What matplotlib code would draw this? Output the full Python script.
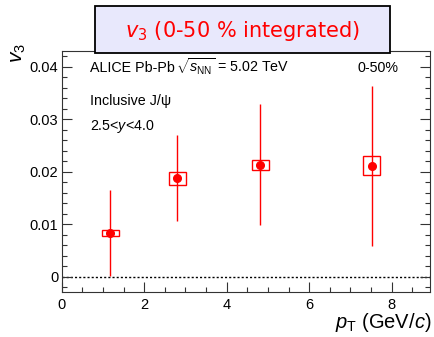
import matplotlib
matplotlib.use("Agg")
import matplotlib.pyplot as plt
from matplotlib.patches import Rectangle
from matplotlib.ticker import MultipleLocator, FuncFormatter

plt.rcParams['font.family'] = ['Liberation Sans', 'DejaVu Sans']
plt.rcParams['mathtext.fontset'] = 'custom'
plt.rcParams['mathtext.rm'] = 'Liberation Sans'
plt.rcParams['mathtext.it'] = 'Liberation Sans:italic'
plt.rcParams['mathtext.bf'] = 'Liberation Sans:bold'

# data
pt = [1.18, 2.80, 4.81, 7.52]
v3 = [0.0083, 0.0187, 0.0213, 0.0211]
stat = [0.0082, 0.0082, 0.0115, 0.0152]
syst = [0.0006, 0.0013, 0.0009, 0.0018]
box_halfwidth = 0.205

fig = plt.figure(figsize=(4.34, 3.37), dpi=100)
ax = fig.add_axes([0.1422, 0.1326, 0.8486, 0.7146])

red = '#ff0000'
ax.axhline(0, color='black', lw=1, ls=(0, (1.5, 1.5)), zorder=1)
for x, y, s in zip(pt, v3, syst):
    ax.add_patch(Rectangle((x - box_halfwidth, y - s), 2 * box_halfwidth, 2 * s,
                           fill=False, edgecolor=red, lw=1, zorder=2))
ax.errorbar(pt, v3, yerr=stat, fmt='o', color=red, ms=5.5, elinewidth=1,
            capsize=0, zorder=3)

ax.set_xlim(0, 8.93)
ax.set_ylim(-0.003, 0.0429)
ax.xaxis.set_major_locator(MultipleLocator(2))
ax.xaxis.set_minor_locator(MultipleLocator(0.5))
ax.yaxis.set_major_locator(MultipleLocator(0.01))
ax.yaxis.set_minor_locator(MultipleLocator(0.002))
ax.yaxis.set_major_formatter(FuncFormatter(lambda v, p: '0' if abs(v) < 1e-9 else f'{v:.2f}'))
ax.xaxis.set_major_formatter(FuncFormatter(lambda v, p: f'{v:.0f}'))
ax.tick_params(which='both', direction='in', right=True, top=False, color='#333333')
ax.tick_params(which='major', length=7.2, width=0.8, labelsize=10.5)
ax.tick_params(which='minor', length=3.6, width=0.8)
ax.tick_params(axis='y', pad=2.5)
ax.tick_params(axis='x', pad=4)
for sp in ax.spines.values():
    sp.set_color('#333333')
    sp.set_linewidth(0.8)

W, H = 434.0, 337.0
fs = 10.3
fig.text(90 / W, 1 - 71.7 / H, 'ALICE Pb-Pb', fontsize=fs, va='baseline')
fig.text(176 / W, 1 - 71.7 / H, r'$\sqrt{s_{\mathrm{NN}}}$ = 5.02 TeV', fontsize=fs, va='baseline')
fig.text(357 / W, 1 - 71.7 / H, '0-50%', fontsize=fs, va='baseline')
fig.text(90 / W, 1 - 104.5 / H, 'Inclusive J/ψ', fontsize=fs, va='baseline')
fig.text(90 / W, 1 - 130 / H, '2.5<$y$<4.0', fontsize=fs, va='baseline')

fig.text(18 / W, 1 - 43 / H, '$v_3$', fontsize=15, rotation=90, ha='center', va='top')
fig.text(431 / W, 1 - 328.3 / H, r'$p_{\mathrm{T}}$ (GeV/$c$)', fontsize=14.5,
         ha='right', va='baseline')

# title box
fig.add_artist(Rectangle((95 / W, 1 - 52.7 / H), 295 / W, 46.7 / H,
                         transform=fig.transFigure, facecolor='#e8e8fc',
                         edgecolor='black', lw=1.3, zorder=5))
fig.text(242 / W, 1 - 37.3 / H, '$v_3$ (0-50 % integrated)', color=red,
         fontsize=15, ha='center', va='baseline', zorder=6,
         family=['DejaVu Sans'], math_fontfamily='dejavusans')

fig.savefig('out.png', dpi=100)
